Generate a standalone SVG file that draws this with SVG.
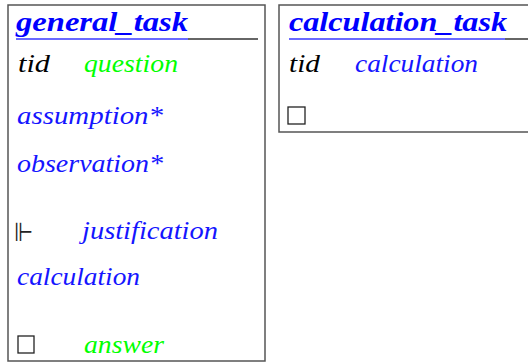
<svg xmlns="http://www.w3.org/2000/svg" width="528" height="363" viewBox="0 0 528 363">
<style>
.box{fill:#fff;stroke:#555;stroke-width:1.5}
.t{font-family:'Liberation Serif',serif;font-style:italic;font-size:26px}
.title{font-family:'Liberation Serif',serif;font-style:italic;font-weight:bold;font-size:27px;fill:#0000ff}
.k{fill:#000}
.b{fill:#1515ff}
.g{fill:#00ff00}
.ul{stroke:#6a6aff;stroke-width:2}
.rule{stroke:#666;stroke-width:2}
.sq{fill:#fff;stroke:#222;stroke-width:1.3}
.sym{font-family:'DejaVu Sans',sans-serif;font-size:26px;fill:#222}
</style>
<g id="general_task">
<rect class="box" x="8" y="5" width="257" height="356"/>
<text class="title" x="16" y="31" textLength="172" lengthAdjust="spacingAndGlyphs">general_task</text>
<line class="rule" x1="16" y1="39" x2="258" y2="39"/>
<line class="ul" x1="16" y1="39" x2="188" y2="39"/>
<text class="t k" x="18" y="72" textLength="32" lengthAdjust="spacingAndGlyphs">tid</text>
<text class="t g" x="84" y="72" textLength="94" lengthAdjust="spacingAndGlyphs">question</text>
<text class="t b" x="17" y="124" textLength="146" lengthAdjust="spacingAndGlyphs">assumption*</text>
<text class="t b" x="17" y="172" textLength="146" lengthAdjust="spacingAndGlyphs">observation*</text>
<text class="sym" x="14" y="241" textLength="19" lengthAdjust="spacingAndGlyphs">⊩</text>
<text class="t b" x="82" y="239" textLength="136" lengthAdjust="spacingAndGlyphs">justification</text>
<text class="t b" x="17" y="285" textLength="123" lengthAdjust="spacingAndGlyphs">calculation</text>
<rect class="sq" x="18" y="336" width="16" height="17"/>
<text class="t g" x="84" y="353" textLength="80" lengthAdjust="spacingAndGlyphs">answer</text>
</g>
<g id="calculation_task">
<rect class="box" x="279" y="5" width="260" height="127"/>
<text class="title" x="289" y="31" textLength="218" lengthAdjust="spacingAndGlyphs">calculation_task</text>
<line class="rule" x1="289" y1="39" x2="528" y2="39"/>
<line class="ul" x1="289" y1="39" x2="505" y2="39"/>
<text class="t k" x="289" y="72" textLength="31" lengthAdjust="spacingAndGlyphs">tid</text>
<text class="t b" x="355" y="72" textLength="123" lengthAdjust="spacingAndGlyphs">calculation</text>
<rect class="sq" x="288" y="107" width="17" height="17"/>
</g>
<g id="connectors"/>
</svg>
